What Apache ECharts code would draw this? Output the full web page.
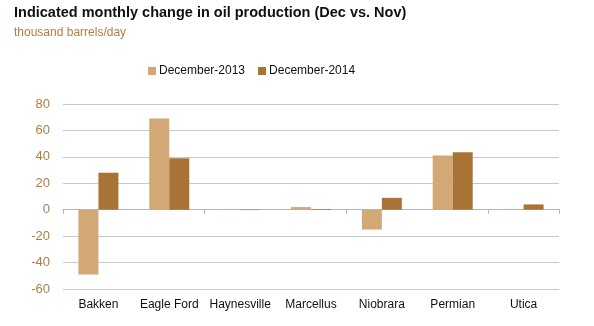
<!DOCTYPE html>
<html><head><meta charset="utf-8">
<script src="https://cdn.jsdelivr.net/npm/echarts@6/dist/echarts.min.js"></script>
<style>html,body{margin:0;padding:0;background:#fff}#c{width:594px;height:326px}</style>
</head><body><div id="c"></div>
<script>
const categories = ['Bakken','Eagle Ford','Haynesville','Marcellus','Niobrara','Permian','Utica'];
const dec2013 = [-49, 69, 0.3, 2, -15, 41, 0.5];
const dec2014 = [28, 39, -0.3, 0.5, 9, 43.5, 4];
const yTicks = { min: -60, max: 80, interval: 20 };

const chart = echarts.init(document.getElementById('c'), null, {renderer:'canvas'});
chart.setOption({
  animation: false,
  title: [
    { text: 'Indicated monthly change in oil production (Dec vs. Nov)', left: 9, top: 0,
      textStyle: { fontFamily: 'Liberation Sans, Arial', fontSize: 14.5, fontWeight: 'bold', color: '#111' } },
    { text: 'thousand barrels/day', left: 9, top: 22,
      textStyle: { fontFamily: 'Liberation Sans, Arial', fontSize: 12, fontWeight: 'normal', color: '#B27B3F' } }
  ],
  legend: {
    top: 60, left: 143, itemWidth: 8, itemHeight: 8, itemGap: 13, icon: 'rect',
    textStyle: { fontFamily: 'Liberation Sans, Arial', fontSize: 12, color: '#111', padding: [0,0,0,-2] }
  },
  grid: { left: 63, right: 35, top: 104, bottom: 37 },
  xAxis: [
    { type: 'category', data: categories, position: 'bottom',
      axisLine: { show: false, onZero: false }, axisTick: { show: false },
      axisLabel: { interval: 0, fontFamily: 'Liberation Sans, Arial', fontSize: 12, color: '#111', margin: 10 } },
    { type: 'category', data: categories, position: 'bottom',
      axisLine: { show: true, onZero: true, lineStyle: { color: '#b5b5b5', width: 1 } },
      axisTick: { show: true, length: 4, lineStyle: { color: '#b5b5b5' } },
      axisLabel: { show: false } }
  ],
  yAxis: {
    type: 'value', min: yTicks.min, max: yTicks.max, interval: yTicks.interval,
    axisLine: { show: false }, axisTick: { show: false },
    axisLabel: { fontFamily: 'Liberation Sans, Arial', fontSize: 13, color: '#B27B3F', margin: 13 },
    splitLine: { lineStyle: { color: '#c8c8c8', width: 1 } }
  },
  series: [
    { name: 'December-2013', type: 'bar', data: dec2013, barWidth: 20, barGap: '0%',
      itemStyle: { color: '#D2A877' } },
    { name: 'December-2014', type: 'bar', data: dec2014, barWidth: 20, barGap: '0%',
      itemStyle: { color: '#AA7336' } }
  ]
});
</script></body></html>
